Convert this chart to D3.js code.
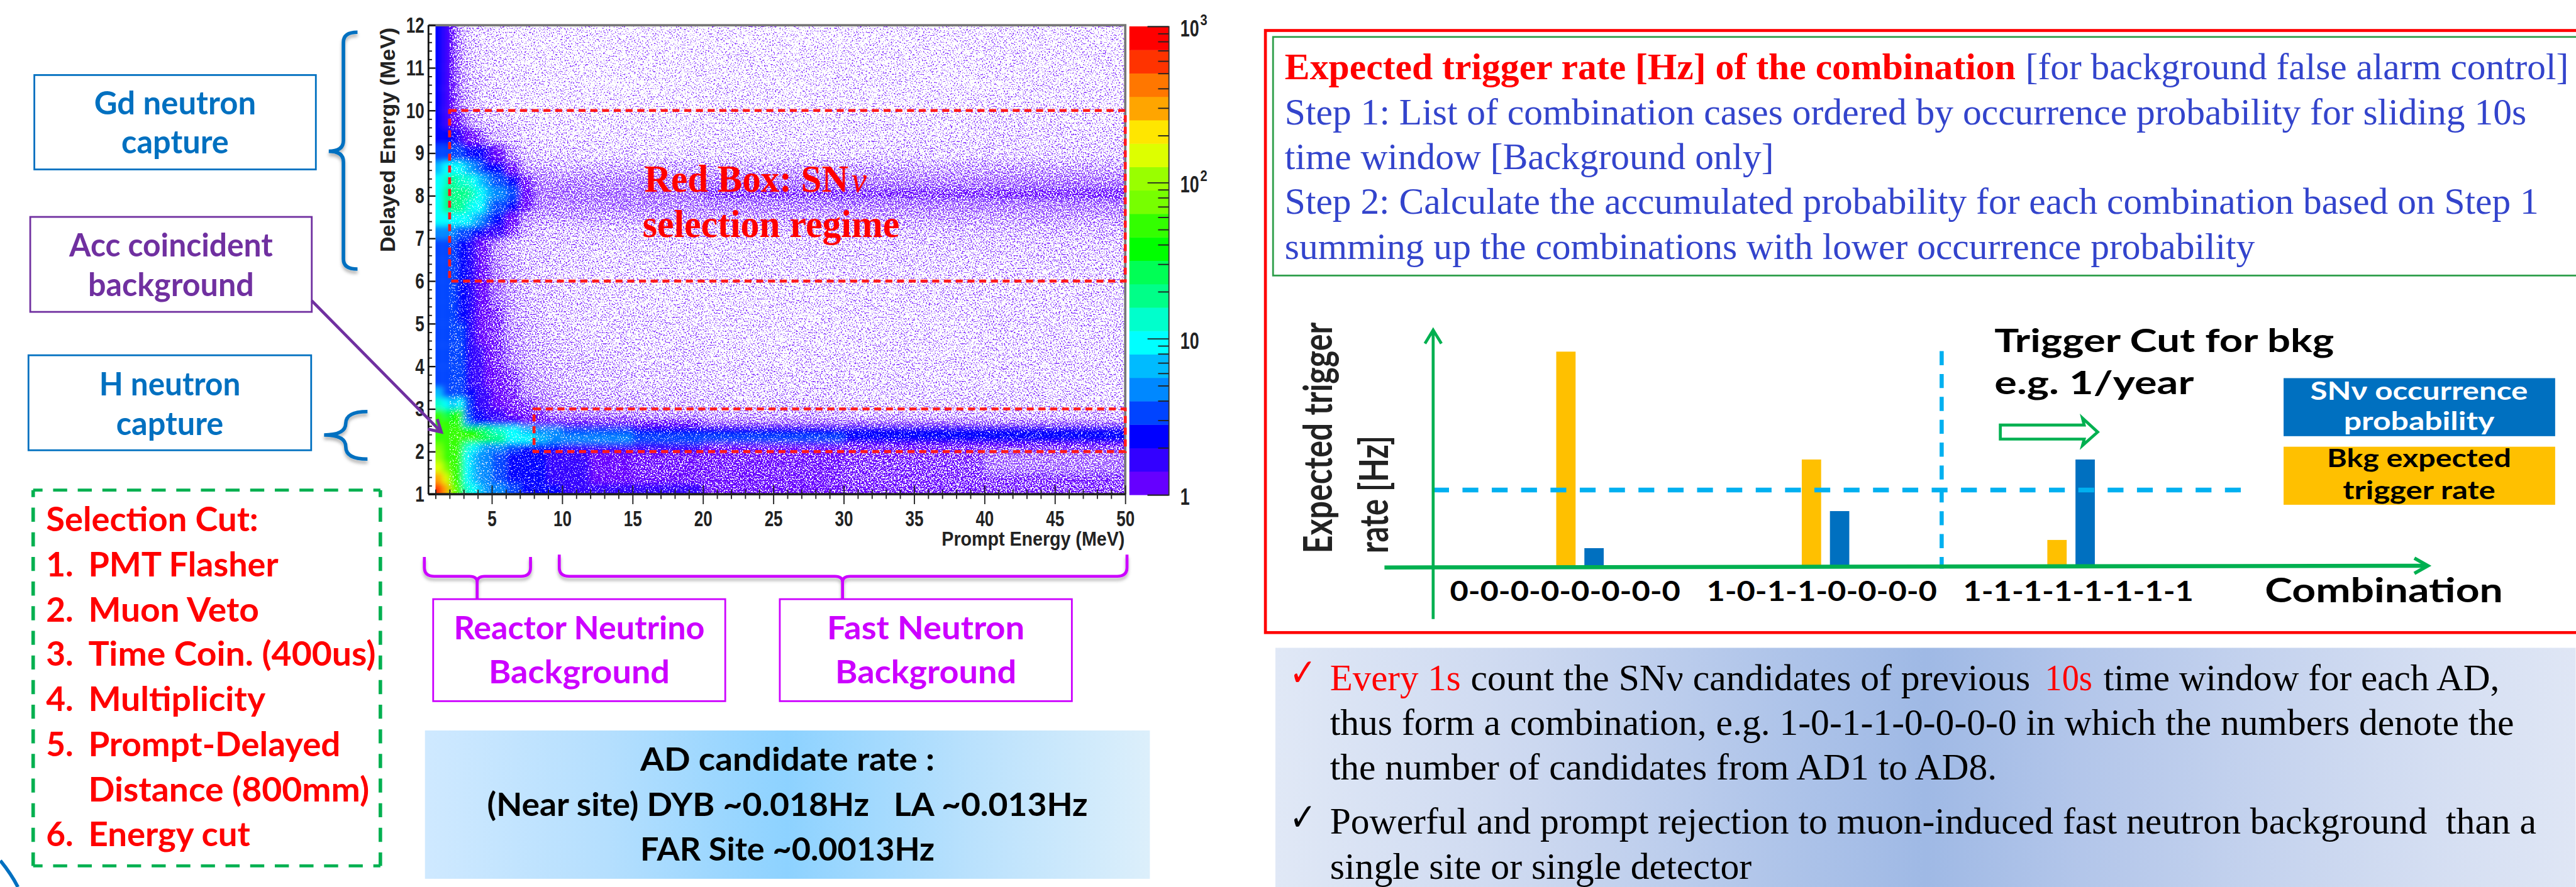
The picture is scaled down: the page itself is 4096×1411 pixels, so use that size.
<!DOCTYPE html>
<html>
<head>
<meta charset="utf-8">
<script src="https://cdn.jsdelivr.net/npm/d3@7"></script>
<style>
  html, body { margin: 0; padding: 0; background: #fff; overflow: hidden; }
  svg { display: block; }
</style>
</head>
<body>
<script>
// ---- values ----

// heat map bin edges (MeV), the last edge closes the last bin
const promptEdges = [1, 1.5, 2, 2.5, 3, 3.5, 4, 4.5, 5, 6, 7, 8, 9, 10, 12, 15, 20, 30, 40, 50];
const delayedEdges = [1, 1.25, 1.5, 1.75, 2, 2.2, 2.4, 2.6, 2.8, 3, 3.25, 3.5, 4, 4.5, 5, 5.5, 6, 6.5, 7, 7.3, 7.6, 7.9, 8.2, 8.5, 8.8, 9.2, 9.6, 10, 10.5, 11, 11.5, 12];

// mean counts per pixel, one line per delayed bin (bottom to top); below 1 means mostly empty pixels
const counts = [
  [600, 300, 70, 60, 12, 8, 6, 5, 4, 3.2, 2.8, 2.4, 2.1, 1.9, 1.7, 1.5, 1.2, 1.05, 1],
  [350, 130, 45, 50, 10, 7, 5, 4, 3.2, 2.8, 2.4, 2, 1.8, 1.6, 1.4, 1.2, 1.15, 1, 1],
  [170, 70, 45, 50, 10, 7, 5, 4, 3.2, 2.8, 2.4, 2, 1.8, 1.6, 1.4, 1.2, 1.15, 1, .95],
  [110, 55, 50, 55, 10, 7, 5, 4, 3.2, 2.8, 2.4, 2, 1.8, 1.6, 1.4, 1.2, 1.15, 1, .95],
  [70, 50, 50, 55, 12, 8, 6, 5, 4, 3.2, 2.8, 2.4, 2.1, 1.9, 1.7, 1.5, 1.2, 1.05, 1],
  [60, 50, 55, 60, 45, 45, 35, 28, 16, 10, 8, 6, 5, 4.5, 4, 3.5, 3, 2.6, 2.3],
  [55, 50, 55, 60, 35, 35, 25, 18, 12, 9, 6, 5, 4.2, 3.8, 3.2, 2.8, 2.5, 2.2, 2],
  [60, 50, 40, 45, 4, 2.5, 2.2, 2, 1.7, 1.5, 1.4, 1.3, 1.2, 1.2, 1.1, 1, .9, .9, .8],
  [45, 30, 35, 45, 3, 2.2, 2, 1.7, 1.5, 1.3, 1.1, 1, .9, .9, .8, .7, .6, .5, .5],
  [14, 9, 7, 10, 3, 2, 1.8, 1.6, 1.4, 1.2, 1, .9, .8, .7, .6, .55, .5, .45, .45],
  [6, 3.8, 3.8, 3.5, 2.6, 2, 1.7, 1.5, 1.3, 1.1, .9, .8, .7, .6, .55, .5, .45, .4, .4],
  [3.6, 3.5, 3.2, 3, 2.5, 1.9, 1.6, 1.4, 1.2, 1, .8, .7, .6, .55, .5, .45, .4, .38, .38],
  [3.4, 3.4, 3, 3, 2.4, 1.8, 1.5, 1.3, 1.1, .9, .7, .6, .55, .5, .45, .4, .35, .35, .38],
  [3.4, 3.4, 3, 3, 2.4, 1.7, 1.4, 1.2, 1, .8, .65, .55, .5, .45, .4, .38, .33, .35, .38],
  [3.4, 3.4, 3, 2.8, 2.3, 1.7, 1.4, 1.2, 1, .75, .6, .5, .45, .42, .38, .35, .33, .35, .38],
  [3.4, 3.3, 3, 2.8, 2.3, 1.7, 1.4, 1.2, .95, .7, .55, .5, .45, .42, .38, .35, .35, .38, .4],
  [3.4, 3.3, 3, 2.7, 2.2, 1.7, 1.3, 1.1, .9, .65, .52, .48, .45, .42, .4, .38, .38, .4, .42],
  [3.4, 3.4, 3.1, 2.8, 2.3, 1.7, 1.3, 1.1, .85, .62, .52, .5, .48, .45, .42, .42, .42, .45, .48],
  [4, 4.5, 4, 3.5, 3, 2.6, 2.2, 1.8, 1.5, 1, .65, .55, .5, .5, .48, .5, .5, .55, .55],
  [8, 10, 9, 9, 8, 6, 4, 3, 2.2, 1.4, .8, .72, .72, .72, .7, .7, .7, .72, .72],
  [11, 16, 17, 17, 15, 11, 8, 5.5, 3.5, 2.4, 1.2, .9, .9, .9, .9, .88, .9, .92, .92],
  [11, 18, 22, 22, 20, 15, 10, 7, 4.5, 3, 1.4, .98, .98, .98, .98, .98, 1, 1.02, 1.05],
  [9, 14, 16, 15, 12, 9, 6.5, 4.5, 3, 2.2, 1.1, .9, .88, .88, .88, .88, .92, .92, .95],
  [6, 8, 9, 8, 6, 4, 3, 2.4, 2, 1.3, .75, .68, .66, .66, .64, .64, .66, .68, .7],
  [3.5, 3.5, 3.5, 3.3, 2.8, 2.3, 2, 1.6, 1.3, .85, .55, .42, .4, .4, .38, .38, .38, .42, .45],
  [2.8, 2.4, 2, 1.7, 1.4, 1.2, 1, .8, .65, .5, .4, .35, .32, .32, .3, .3, .32, .35, .38],
  [2.4, 1.9, 1.4, 1.1, .9, .7, .55, .48, .42, .38, .33, .3, .3, .3, .28, .28, .3, .32, .35],
  [2.3, 1.8, 1.3, .95, .7, .55, .45, .42, .38, .33, .3, .28, .28, .28, .26, .26, .28, .3, .33],
  [2.2, 1.7, 1.2, .9, .6, .5, .42, .38, .35, .3, .28, .26, .26, .26, .24, .25, .27, .28, .3],
  [2.1, 1.7, 1.2, .85, .55, .45, .4, .35, .33, .3, .27, .25, .25, .25, .24, .24, .25, .27, .3],
  [2.1, 1.7, 1.1, .8, .5, .42, .38, .33, .32, .28, .26, .25, .24, .24, .23, .23, .24, .26, .28]
];

// palette of the colour bar, bottom to top, 20 bands over 1..1000
const paletteBands = ["#6600ff", "#3300ff", "#0000ff", "#0044ff", "#0088ff", "#00bbff", "#00ffff", "#00ffcc", "#00ff88", "#00ff55",
  "#00ff00", "#33ff00", "#77ff00", "#99ff00", "#ddff00", "#ffe600", "#ffa500", "#ff7700", "#ff3300", "#ff0000"];

// selection regions (MeV): [prompt from, prompt to, delayed from, delayed to]
const selectionRegions = [[2, 50, 6, 10], [8, 50, 2, 3]];

// the small sketch on the right, values in arbitrary units
const combinations = ["0-0-0-0-0-0-0-0", "1-0-1-1-0-0-0-0", "1-1-1-1-1-1-1-1"];
const bkgRate = [9.18, 4.58, 1.15];
const snProb = [0.8, 2.38, 4.58];
const triggerCut = 3.28;

// text
const cutNumbers = ["1.", "2.", "3.", "4.", "5.", "", "6."];
const cutNames = ["PMT Flasher", "Muon Veto", "Time Coin. (400us)", "Multiplicity", "Prompt-Delayed", "Distance (800mm)", "Energy cut"];
const stepLines = ["Step 1: List of combination cases ordered by occurrence probability for sliding 10s",
  "time window [Background only]",
  "Step 2: Calculate the accumulated probability for each combination based on Step 1",
  "summing up the combinations with lower occurrence probability"];

// ---- page ----
const svg = d3.select("body").append("svg")
  .attr("width", 4096)
  .attr("height", 1411)
  .attr("viewBox", "0 0 4391 1513");

const SANS = "Lato, sans-serif";
const SERIF = "'Liberation Serif', serif";
const HELV = "'Liberation Sans', sans-serif";
const BLUE = "#0070c0", PURPLE = "#7030a0", MAGENTA = "#cc00ff", GREEN = "#00b050", RED = "#ff0000", CYAN = "#00b0f0";

const defs = svg.append("defs");

// text helper: fit a text to the width it has in the picture
function label(parent, str, x, y, width, size, fill, opts = {}) {
  const t = parent.append("text")
    .text(str)
    .attr("x", x)
    .attr("y", y)
    .attr("font-family", opts.font || SANS)
    .attr("font-weight", opts.weight || "bold")
    .attr("font-style", opts.style || "normal")
    .attr("font-size", size)
    .attr("fill", fill)
    .attr("text-anchor", opts.anchor || "start")
    .attr("xml:space", "preserve");
  if (width) t.attr("textLength", width).attr("lengthAdjust", "spacingAndGlyphs");
  if (opts.rotate) t.attr("transform", `rotate(-90 ${x} ${y})`);
  return t;
}

// ---- heat map ----
const x = d3.scaleLinear().domain([1, 50]).range([742, 1918]);
const y = d3.scaleLinear().domain([1, 12]).range([843, 43]);
const zLog = d3.scaleLog().domain([1, 1000]).range([0, paletteBands.length]);
const sparsePurple = d3.interpolateRgb(paletteBands[0], "#fff")(0.25);
const zColor = v => v < 1 ? sparsePurple : paletteBands[Math.min(paletteBands.length - 1, Math.floor(zLog(v)))];

const cells = counts.flatMap((row, j) => row.map((v, i) => ({
  x0: promptEdges[i], x1: promptEdges[i + 1], y0: delayedEdges[j], y1: delayedEdges[j + 1], v
})));

defs.append("clipPath").attr("id", "plotClip").append("rect")
  .attr("x", x(1)).attr("y", y(12)).attr("width", x(50) - x(1)).attr("height", y(1) - y(12));

defs.append("filter").attr("id", "soft").attr("x", "-5%").attr("y", "-5%").attr("width", "110%").attr("height", "110%")
  .append("feGaussianBlur").attr("stdDeviation", 5);

// paper-white pixels of the sparse region: density follows the cell value
const grain = defs.append("filter").attr("id", "grain")
  .attr("x", 0).attr("y", 0).attr("width", "100%").attr("height", "100%")
  .attr("color-interpolation-filters", "sRGB");
grain.append("feTurbulence").attr("type", "fractalNoise").attr("baseFrequency", 0.42).attr("numOctaves", 2).attr("seed", 7).attr("result", "t");
grain.append("feColorMatrix").attr("in", "t").attr("type", "matrix")
  .attr("values", "0 0 0 0 1  0 0 0 0 1  0 0 0 0 1  1 0 0 0 0").attr("result", "m");
grain.append("feComponentTransfer").attr("in", "m").attr("result", "n")
  .append("feFuncA").attr("type", "linear").attr("slope", 3).attr("intercept", -1);
grain.append("feGaussianBlur").attr("in", "SourceGraphic").attr("stdDeviation", 7).attr("result", "s");
grain.append("feComposite").attr("in", "s").attr("in2", "n").attr("operator", "arithmetic")
  .attr("k1", 0).attr("k2", 5).attr("k3", 5).attr("k4", -4.2).attr("result", "c");
grain.append("feGaussianBlur").attr("in", "c").attr("stdDeviation", 0.7);

const plot = svg.append("g").attr("clip-path", "url(#plotClip)");

// cells on the outer edge run past the clip so the blur does not fade there
const cellX0 = d => d.x0 === 1 ? x(1) - 30 : x(d.x0);
const cellX1 = d => d.x1 === 50 ? x(50) + 30 : x(d.x1);
const cellY0 = d => d.y0 === 1 ? y(1) + 30 : y(d.y0);
const cellY1 = d => d.y1 === 12 ? y(12) - 30 : y(d.y1);

plot.append("g").attr("filter", "url(#soft)")
  .selectAll("rect").data(cells).join("rect")
  .attr("x", cellX0).attr("y", cellY1)
  .attr("width", d => cellX1(d) - cellX0(d)).attr("height", d => cellY0(d) - cellY1(d))
  .attr("fill", d => zColor(d.v));

plot.append("g").attr("filter", "url(#grain)")
  .selectAll("rect").data(cells.filter(d => d.v < 1.5)).join("rect")
  .attr("x", cellX0).attr("y", cellY1)
  .attr("width", d => cellX1(d) - cellX0(d)).attr("height", d => cellY0(d) - cellY1(d))
  .attr("fill", "#fff").attr("fill-opacity", d => 1 - d.v / 1.5);

// frame
svg.append("path").attr("d", `M730,${y(12)}H${x(50)}V${y(1)}`).attr("fill", "none").attr("stroke", "#777").attr("stroke-width", 4);
svg.append("line").attr("x1", 730).attr("x2", 730).attr("y1", y(12)).attr("y2", y(1)).attr("stroke", "#111").attr("stroke-width", 3);
svg.append("line").attr("x1", 730).attr("x2", x(50)).attr("y1", y(1)).attr("y2", y(1)).attr("stroke", "#222").attr("stroke-width", 4);

// y axis
const yMinor = d3.range(1, 12.01, 0.2).filter(v => Math.abs(v - Math.round(v)) > 0.01);
const yAxisG = svg.append("g").attr("transform", "translate(730,0)")
  .call(d3.axisLeft(y).tickValues(d3.range(1, 13)).tickSize(-12).tickPadding(7));
const yMinorG = svg.append("g").attr("transform", "translate(730,0)")
  .call(d3.axisLeft(y).tickValues(yMinor).tickSize(-6).tickFormat(""));
yMinorG.select(".domain").remove();
yAxisG.select(".domain").remove();
yAxisG.selectAll("line").attr("stroke", "#111").attr("stroke-width", 2.5);
yMinorG.selectAll("line").attr("stroke", "#111").attr("stroke-width", 2);
yAxisG.selectAll("text")
  .attr("font-family", HELV).attr("font-size", 38).attr("font-weight", "bold").attr("fill", "#222")
  .attr("lengthAdjust", "spacingAndGlyphs")
  .attr("textLength", d => String(d).length * 15.5);

// x axis
const xMinor = d3.range(1, 51).filter(v => v % 5 !== 0);
const xAxisG = svg.append("g").attr("transform", `translate(0,${y(1)})`)
  .call(d3.axisBottom(x).tickValues(d3.range(5, 51, 5)).tickSize(17));
const xMinorG = svg.append("g").attr("transform", `translate(0,${y(1)})`)
  .call(d3.axisBottom(x).tickValues(xMinor).tickSize(8).tickFormat(""));
xAxisG.select(".domain").remove();
xMinorG.select(".domain").remove();
xAxisG.selectAll("line").attr("y1", -15).attr("stroke", "#222").attr("stroke-width", 2);
xMinorG.selectAll("line").attr("y1", -8).attr("stroke", "#222").attr("stroke-width", 2);
xAxisG.selectAll("text")
  .attr("y", 28)
  .attr("font-family", HELV).attr("font-size", 37).attr("font-weight", "bold").attr("fill", "#222")
  .attr("lengthAdjust", "spacingAndGlyphs")
  .attr("textLength", d => String(d).length * 15.5);

label(svg, "Delayed Energy (MeV)", 673, 430, 383, 36, "#222", { font: HELV, rotate: true });
label(svg, "Prompt Energy (MeV)", 1605, 931, 312, 34, "#222", { font: HELV });

// colour bar
const zAxisScale = d3.scaleLog().domain([1, 1000]).range([844, 45]);
const bandEdges = d3.range(paletteBands.length);
svg.append("g").selectAll("rect").data(bandEdges).join("rect")
  .attr("x", 1925).attr("width", 67)
  .attr("y", i => zAxisScale(zLog.invert(i + 1)))
  .attr("height", i => zAxisScale(zLog.invert(i)) - zAxisScale(zLog.invert(i + 1)) + 0.5)
  .attr("fill", i => paletteBands[i]);
const zMajor = [1, 10, 100, 1000];
const zMinor = [2, 3, 4, 5, 6, 7, 8, 9, 20, 30, 40, 50, 60, 70, 80, 90, 200, 300, 400, 500, 600, 700, 800, 900];
const zAxisG = svg.append("g").attr("transform", "translate(1992,0)")
  .call(d3.axisRight(zAxisScale).tickValues(zMajor).tickSize(-36).tickFormat(""));
const zMinorG = svg.append("g").attr("transform", "translate(1992,0)")
  .call(d3.axisRight(zAxisScale).tickValues(zMinor).tickSize(-18).tickFormat(""));
zMinorG.select(".domain").remove();
zAxisG.select(".domain").attr("stroke", "#333").attr("stroke-width", 2);
zAxisG.selectAll("line").attr("stroke", "#222").attr("stroke-width", 2);
zMinorG.selectAll("line").attr("stroke", "#222").attr("stroke-width", 2);
const zLabel = [[1000, "10", "3"], [100, "10", "2"], [10, "10", ""], [1, "1", ""]];
zLabel.forEach(([v, base, sup]) => {
  const by = zAxisScale(v) + 17;
  label(svg, base, 2012, by, base.length * 16, 40, "#222", { font: HELV });
  if (sup) label(svg, sup, 2046, by - 19, 12, 25, "#222", { font: HELV });
});

// selection regions
svg.append("g").selectAll("rect").data(selectionRegions).join("rect")
  .attr("x", d => x(d[0])).attr("y", d => y(d[3]))
  .attr("width", d => x(d[1]) - x(d[0])).attr("height", d => y(d[2]) - y(d[3]))
  .attr("fill", "none").attr("stroke", "#ff1a1a").attr("stroke-width", 5).attr("stroke-dasharray", "12 8");

label(svg, "Red Box: SN", 1098, 327, 348, 66, RED, { font: SERIF });
label(svg, "ν", 1451, 327, 26, 62, RED, { font: SERIF, weight: "normal", style: "italic" });
label(svg, "selection regime", 1095, 404, 438, 66, RED, { font: SERIF });

// ---- left column: boxes and braces ----
defs.append("filter").attr("id", "shadow").attr("x", "-20%").attr("y", "-20%").attr("width", "140%").attr("height", "160%")
  .append("feDropShadow").attr("dx", 0).attr("dy", 5).attr("stdDeviation", 3).attr("flood-color", "#000").attr("flood-opacity", 0.3);

function box(x0, y0, x1, y1, stroke, sw) {
  svg.append("rect").attr("x", x0).attr("y", y0).attr("width", x1 - x0).attr("height", y1 - y0)
    .attr("fill", "#fff").attr("stroke", stroke).attr("stroke-width", sw);
}
function curve(d, stroke, sw, shadow) {
  const p = svg.append("path").attr("d", d).attr("fill", "none").attr("stroke", stroke).attr("stroke-width", sw);
  if (shadow) p.attr("filter", "url(#shadow)");
  return p;
}

box(58, 128, 538, 289, BLUE, 3);
label(svg, "Gd neutron", 298, 195, 276, 56, BLUE, { anchor: "middle" });
label(svg, "capture", 298, 262, 183, 56, BLUE, { anchor: "middle" });

box(51, 370, 531, 532, PURPLE, 3);
label(svg, "Acc coincident", 291, 438, 347, 56, PURPLE, { anchor: "middle" });
label(svg, "background", 291, 505, 283, 56, PURPLE, { anchor: "middle" });

box(48, 606, 530, 768, BLUE, 3);
label(svg, "H neutron", 289, 675, 241, 56, BLUE, { anchor: "middle" });
label(svg, "capture", 289, 742, 183, 56, BLUE, { anchor: "middle" });

// braces
curve("M609,55 Q585,55 585,72 V240 Q585,258 560,258 Q585,258 585,276 V442 Q585,459 609,459", BLUE, 6, true);
curve("M626,702 Q589,702 589,722 Q589,742 552,742 Q589,742 589,762 Q589,783 626,783", BLUE, 6, true);
curve("M723,950 V968 Q723,983 740,983 H800 Q813,983 813,993 V1021 V993 Q813,983 826,983 H888 Q904,983 904,968 V950", MAGENTA, 5, true);
curve("M953,946 V968 Q953,983 970,983 H1423 Q1436,983 1436,993 V1021 V993 Q1436,983 1449,983 H1904 Q1921,983 1921,968 V946", MAGENTA, 5, true);

// arrow from the Acc box
curve("M531,513 L751,736 M745,715 L752,737 L729,732", PURPLE, 5, false);

// selection cuts
const cutGreen = (x1, y1, x2, y2) => svg.append("line").attr("x1", x1).attr("y1", y1).attr("x2", x2).attr("y2", y2)
  .attr("stroke", GREEN).attr("stroke-dasharray", "24 18");
cutGreen(56, 836, 648, 836).attr("stroke-width", 5).attr("stroke-dashoffset", 8);
cutGreen(56, 1477, 648, 1477).attr("stroke-width", 5).attr("stroke-dashoffset", 8);
cutGreen(56, 836, 56, 1477).attr("stroke-width", 6).attr("stroke-dashoffset", 12);
cutGreen(648, 836, 648, 1477).attr("stroke-width", 6).attr("stroke-dashoffset", 12);

label(svg, "Selection Cut:", 78, 906, 362, 57, RED);
const cutBase = [983, 1060, 1136, 1213, 1290, 1367, 1443];
const cutWidth = [324, 291, 490, 302, 430, 479, 276];
cutNames.forEach((s, i) => {
  const t = svg.append("text").attr("y", cutBase[i])
    .attr("font-family", SANS).attr("font-weight", "bold").attr("font-size", 57).attr("fill", RED);
  if (cutNumbers[i]) t.append("tspan").attr("x", 78).text(cutNumbers[i] + " ");
  t.append("tspan").attr("x", 150).text(s).attr("textLength", cutWidth[i]).attr("lengthAdjust", "spacingAndGlyphs");
});

// bottom curve in the corner
curve("M0,1468 Q18,1490 30,1513", BLUE, 6, false);

// background boxes
box(738, 1022, 1236, 1196, MAGENTA, 3);
label(svg, "Reactor Neutrino", 987, 1091, 428, 56, MAGENTA, { anchor: "middle" });
label(svg, "Background", 987, 1166, 309, 56, MAGENTA, { anchor: "middle" });
box(1329, 1022, 1827, 1196, MAGENTA, 3);
label(svg, "Fast Neutron", 1578, 1091, 337, 56, MAGENTA, { anchor: "middle" });
label(svg, "Background", 1578, 1166, 309, 56, MAGENTA, { anchor: "middle" });

// AD rate panel
const adGrad = defs.append("linearGradient").attr("id", "adGrad");
[[0, "#cfe9ff"], [0.25, "#b5dffe"], [0.5, "#8dd2ff"], [0.75, "#b9e1fd"], [1, "#dceffb"]].forEach(([o, c]) =>
  adGrad.append("stop").attr("offset", o).attr("stop-color", c));
svg.append("rect").attr("x", 724).attr("y", 1246).attr("width", 1236).attr("height", 253).attr("fill", "url(#adGrad)");
label(svg, "AD candidate rate :", 1342, 1315, 502, 56, "#000", { anchor: "middle" });
label(svg, "(Near site) DYB ~0.018Hz   LA ~0.013Hz", 1342, 1392, 1024, 56, "#000", { anchor: "middle" });
label(svg, "FAR Site ~0.0013Hz", 1342, 1468, 502, 56, "#000", { anchor: "middle" });

// ---- right column ----
svg.append("rect").attr("x", 2157).attr("y", 52).attr("width", 2300).attr("height", 1027)
  .attr("fill", "none").attr("stroke", RED).attr("stroke-width", 5);
svg.append("rect").attr("x", 2170).attr("y", 63).attr("width", 2300).attr("height", 407)
  .attr("fill", "none").attr("stroke", "#2e9e4a").attr("stroke-width", 3);

const TOPBLUE = "#3344cc";
label(svg, "Expected trigger rate [Hz] of the combination", 2190, 135, 1246, 64, RED, { font: SERIF });
label(svg, "[for background false alarm control]", 3453, 135, 926, 64, TOPBLUE, { font: SERIF, weight: "normal" });
const stepBase = [212, 288, 365, 442];
const stepWidth = [2117, 834, 2138, 1654];
stepLines.forEach((s, i) => label(svg, s, 2190, stepBase[i], stepWidth[i], 64, TOPBLUE, { font: SERIF, weight: "normal" }));

// trigger sketch
const xBand = d3.scaleBand().domain(combinations).range([2484, 3740]);
const xSeries = d3.scaleBand().domain(["bkg", "sn"]).range([0, 81]).paddingInner(0.3125);
const xLabel = d3.scalePoint().domain(combinations).range([2668, 3543]);
const yRate = d3.scaleLinear().domain([0, 10]).range([967, 567]);
const groupX = c => xBand(c) + xBand.bandwidth() / 2 - 40.5;

const bars = combinations.flatMap((c, i) => [
  { c, s: "bkg", v: bkgRate[i], fill: "#ffc000" },
  { c, s: "sn", v: snProb[i], fill: BLUE }
]);
svg.append("g").selectAll("rect").data(bars).join("rect")
  .attr("x", d => groupX(d.c) + xSeries(d.s))
  .attr("y", d => yRate(d.v))
  .attr("width", xSeries.bandwidth())
  .attr("height", d => yRate(0) - yRate(d.v))
  .attr("fill", d => d.fill);

svg.append("line").attr("x1", 2443).attr("x2", 3829).attr("y1", yRate(triggerCut)).attr("y2", yRate(triggerCut))
  .attr("stroke", CYAN).attr("stroke-width", 8).attr("stroke-dasharray", "27 23");
svg.append("line").attr("x1", 3310).attr("x2", 3310).attr("y1", 599).attr("y2", 970)
  .attr("stroke", CYAN).attr("stroke-width", 7).attr("stroke-dasharray", "24 15");

curve("M2443,1056 V565 M2429,586 L2443,563 L2457,586", GREEN, 5, false);
curve("M2360,968 L4136,965", GREEN, 7, false);
curve("M4116,952 L4139,965 L4116,978", GREEN, 6, false);

combinations.forEach(c => {
  label(svg, c, xLabel(c), 1025, 393, 48, "#000", { anchor: "middle" });
});
label(svg, "Combination", 3861, 1027, 406, 58, "#000");
label(svg, "Trigger Cut for bkg", 3400, 600, 579, 56, "#000");
label(svg, "e.g. 1/year", 3400, 672, 340, 56, "#000");
curve("M3410,725 H3553 L3550,713 L3576,737 L3550,760 L3553,749 H3410 Z", GREEN, 5, false);

label(svg, "Expected trigger", 2271, 944, 394, 68, "#222", { rotate: true });
label(svg, "rate [Hz]", 2366, 944, 201, 68, "#222", { rotate: true });

// legend boxes
svg.append("rect").attr("x", 3893).attr("y", 645).attr("width", 463).attr("height", 99).attr("fill", BLUE);
label(svg, "SNν occurrence", 4124, 682, 371, 42, "#fff", { anchor: "middle" });
label(svg, "probability", 4124, 733, 257, 42, "#fff", { anchor: "middle" });
svg.append("rect").attr("x", 3893).attr("y", 762).attr("width", 463).attr("height", 99).attr("fill", "#ffc000");
label(svg, "Bkg expected", 4124, 797, 314, 42, "#000", { anchor: "middle" });
label(svg, "trigger rate", 4124, 851, 260, 42, "#000", { anchor: "middle" });

// ---- bottom right notes ----
const noteGrad = defs.append("linearGradient").attr("id", "noteGrad");
[[0, "#e0e8f6"], [0.2, "#ccd8f0"], [0.4, "#adc3e9"], [0.5, "#9fb9e5"], [0.62, "#b3c6ea"], [0.85, "#d0dbf1"], [1, "#dfe6f5"]].forEach(([o, c]) =>
  noteGrad.append("stop").attr("offset", o).attr("stop-color", c));
svg.append("rect").attr("x", 2174).attr("y", 1105).attr("width", 2217).attr("height", 408).attr("fill", "url(#noteGrad)");

label(svg, "✓", 2198, 1170, 46, 66, RED, { font: "'DejaVu Sans'", weight: "normal" });
label(svg, "Every 1s", 2267, 1177, 223, 64, RED, { font: SERIF, weight: "normal" });
label(svg, "count the SNν candidates of previous", 2507, 1177, 954, 64, "#000", { font: SERIF, weight: "normal" });
label(svg, "10s", 3486, 1177, 81, 64, RED, { font: SERIF, weight: "normal" });
label(svg, "time window for each AD,", 3586, 1177, 675, 64, "#000", { font: SERIF, weight: "normal" });
label(svg, "thus form a combination, e.g. 1-0-1-1-0-0-0-0 in which the numbers denote the", 2267, 1253, 2019, 64, "#000", { font: SERIF, weight: "normal" });
label(svg, "the number of candidates from AD1 to AD8.", 2267, 1330, 1137, 64, "#000", { font: SERIF, weight: "normal" });
label(svg, "✓", 2198, 1416, 46, 66, "#000", { font: "'DejaVu Sans'", weight: "normal" });
label(svg, "Powerful and prompt rejection to muon-induced fast neutron background  than a", 2267, 1422, 2057, 64, "#000", { font: SERIF, weight: "normal" });
label(svg, "single site or single detector", 2267, 1499, 719, 64, "#000", { font: SERIF, weight: "normal" });
</script>
</body>
</html>
